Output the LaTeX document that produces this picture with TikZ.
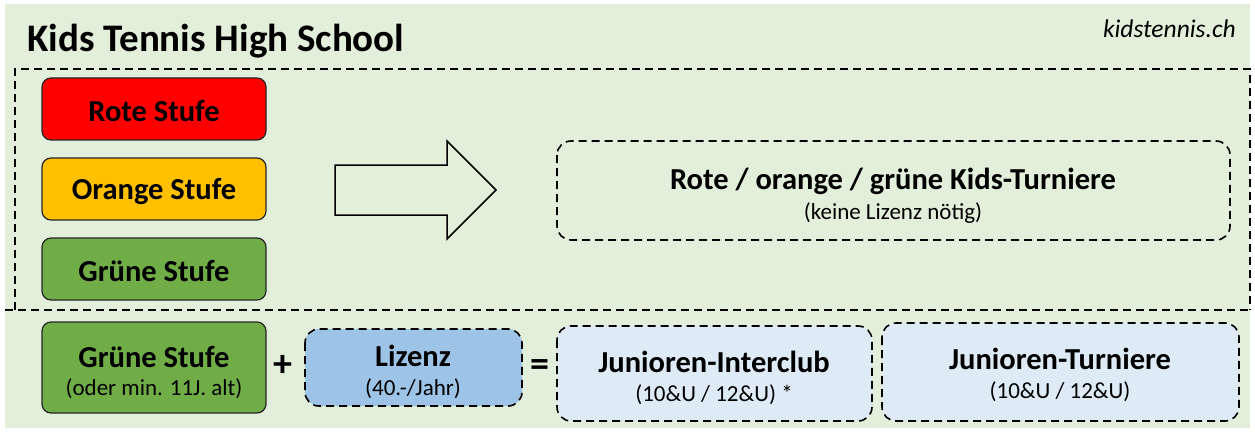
\documentclass[tikz,border=0pt]{standalone}
\usepackage{fontspec}
\setmainfont{Carlito}
\definecolor{bggreen}{HTML}{E2EFDA}
\definecolor{redbox}{HTML}{FF0000}
\definecolor{orangebox}{HTML}{FFC000}
\definecolor{greenbox}{HTML}{70AD47}
\definecolor{bluebox}{HTML}{9DC3E6}
\definecolor{lightblue}{HTML}{DEEBF7}
\definecolor{edge}{HTML}{262626}
\tikzset{
  dsh/.style={draw=black, line width=1.6pt, dash pattern=on 8pt off 5pt},
  levelbox/.style={draw=edge, line width=1.2pt, rounded corners=9pt},
  dbox/.style={dsh, rounded corners=14pt},
  big/.style={font=\fontsize{30.5}{34}\selectfont\bfseries},
  lbl/.style={align=center, inner sep=0pt},
}
\newcommand{\subt}[1]{{\fontsize{23}{26}\selectfont #1}}
\begin{document}
\begin{tikzpicture}[x=1pt,y=-1pt]
\useasboundingbox (0,0) rectangle (1255,433);
\fill[bggreen] (5,4) rectangle (1250,428);
% title
\node[anchor=base west, inner sep=0pt, font=\fontsize{39}{42}\selectfont\bfseries] (title) at (27,52) {Kids Tennis High School};
\node[anchor=base east, inner sep=0pt, font=\fontsize{25.5}{28}\selectfont\itshape] (site) at (1236,38) {kidstennis.ch};
% upper dashed region
\draw[dsh] (15,310) -- (15,69) -- (1250,69) -- (1250,310);
\draw[dsh] (5,310) -- (1250,310);
% level boxes
\path[levelbox, fill=redbox] (42,78) rectangle (266,140);
\node[big, lbl] (rot) at (154,111) {Rote Stufe};
\path[levelbox, fill=orangebox] (42,158) rectangle (266,220);
\node[big, lbl] (orange) at (154,191) {Orange Stufe};
\path[levelbox, fill=greenbox] (42,238) rectangle (266,300);
\node[big, lbl] (gruen) at (154,271) {Grüne Stufe};
% block arrow
\draw[line width=1.5pt, line join=miter] (335,165) -- (447,165) -- (447,141) -- (496,190) -- (447,239) -- (447,215) -- (335,215) -- cycle;
% kids tournaments
\path[dbox] (557,141) rectangle (1230,240);
\node[big, lbl] (kids) at (893,181) {Rote / orange / grüne Kids-Turniere};
\node[lbl] (kidssub) at (893,213) {\subt{(keine Lizenz nötig)}};
% bottom row
\path[levelbox, fill=greenbox] (42,322) rectangle (266,413);
\node[big, lbl] (g2) at (154,357) {Grüne Stufe};
\node[lbl] (g2sub) at (154,389) {\subt{(oder min. 11J. alt)}};
\node[lbl, font=\fontsize{38}{38}\selectfont\bfseries] (plus) at (283,366) {+};
\path[dbox, fill=bluebox] (305,329) rectangle (522,406);
\node[big, lbl] (liz) at (413,356) {Lizenz};
\node[lbl] (lizsub) at (413,389) {\subt{(40.-/Jahr)}};
\node[lbl, font=\fontsize{38}{38}\selectfont\bfseries] (eq) at (540,368) {=};
\path[dbox, fill=lightblue] (557,326) rectangle (872,421);
\node[big, lbl] (ic) at (714,362) {Junioren-Interclub};
\node[lbl] (icsub) at (714,395) {\subt{(10\&U / 12\&U) *}};
\path[dbox, fill=lightblue] (882,323) rectangle (1239,421);
\node[big, lbl] (jt) at (1060,359) {Junioren-Turniere};
\node[lbl] (jtsub) at (1060,392) {\subt{(10\&U / 12\&U)}};
\end{tikzpicture}
\end{document}
